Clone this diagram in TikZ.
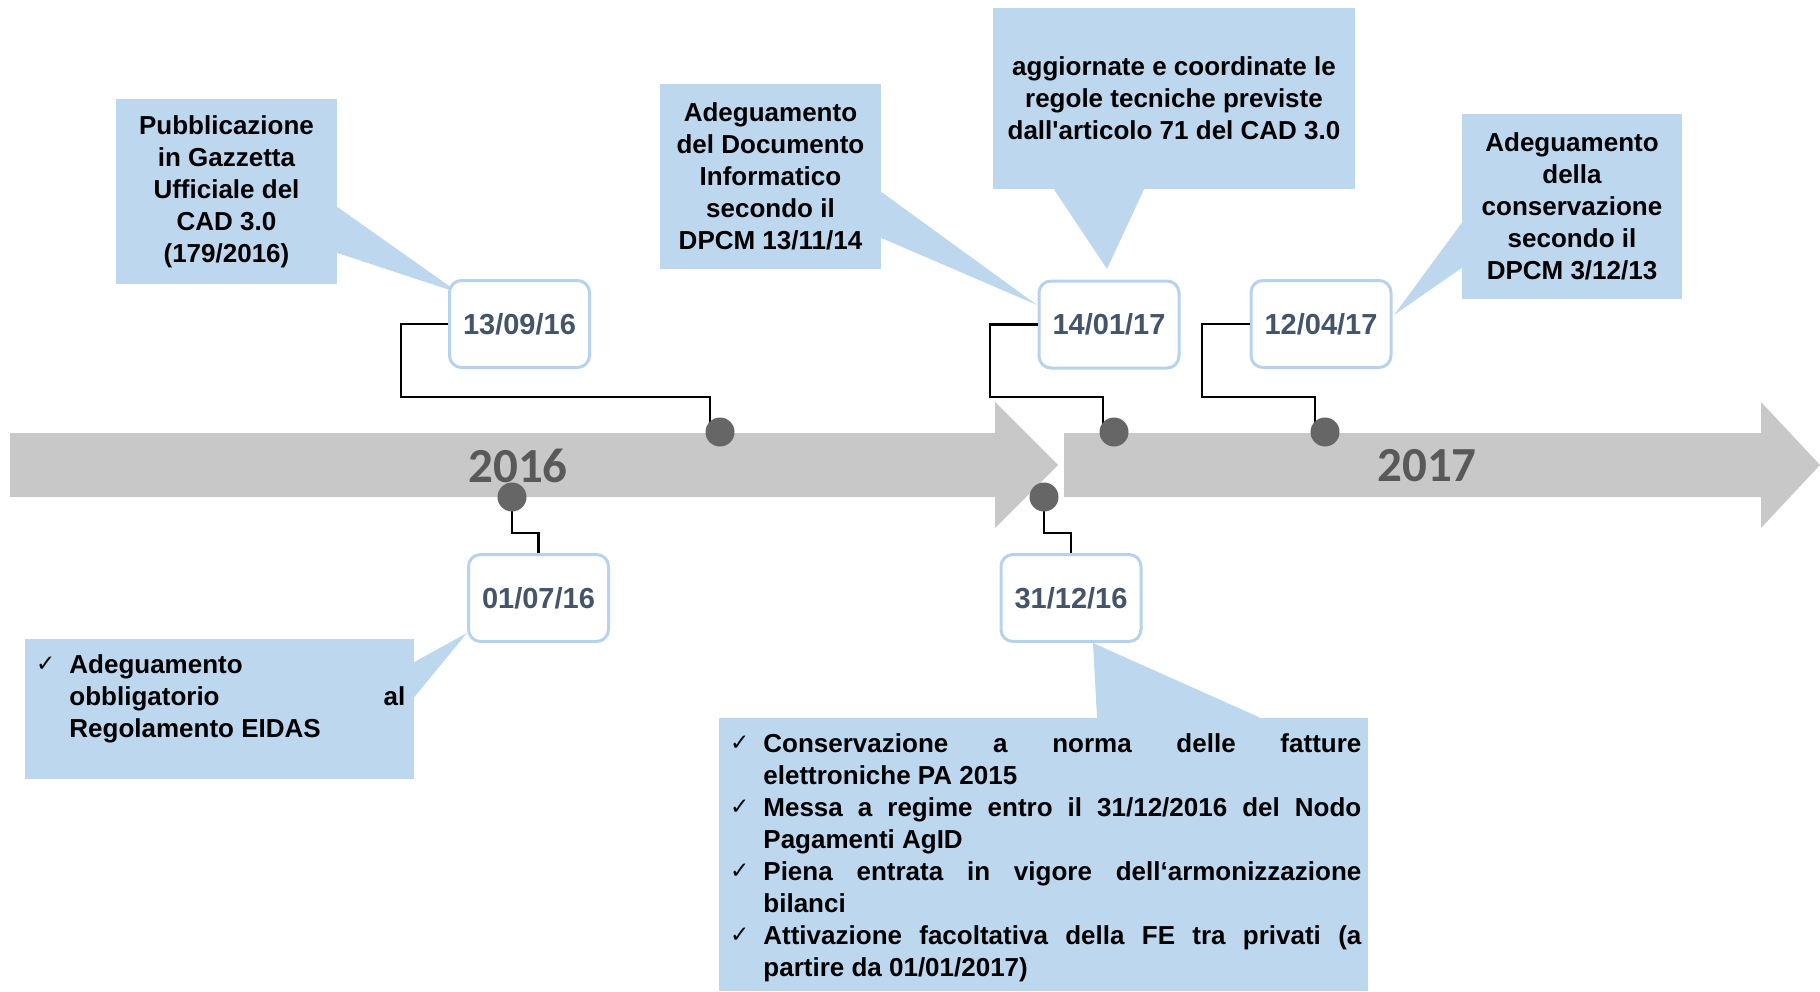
\documentclass[tikz,border=0pt]{standalone}
\usepackage{fontspec}
\setmainfont{Liberation Sans}[Ligatures=TeXOff]
\newfontfamily\yearfont{Carlito}
\newfontfamily\tickfont{DejaVu Sans}
\usetikzlibrary{calc}

\definecolor{calloutblue}{RGB}{189,215,238}
\definecolor{dateedge}{RGB}{182,210,237}
\definecolor{datetext}{RGB}{68,84,106}
\definecolor{bandgray}{RGB}{200,200,200}
\definecolor{dotgray}{RGB}{102,102,102}
\definecolor{yeargray}{RGB}{89,89,89}

% check mark hung to the left of a list line
\newcommand{\tk}{\llap{\raisebox{1pt}{\tickfont\mdseries\fontsize{11.5}{11.5}\selectfont ✓}\hspace{7pt}}}

\begin{document}
\begin{tikzpicture}[x=0.5pt, y=-0.5pt,
  band/.style={fill=bandgray},
  yearlabel/.style={font=\yearfont\bfseries\fontsize{24.5}{29}\selectfont, text=yeargray, inner sep=0},
  marker/.style={circle, fill=dotgray, minimum size=14.5pt, inner sep=0},
  datebox/.style={draw=dateedge, line width=1.5pt, fill=white, rounded corners=6pt,
    minimum width=70pt, minimum height=43.5pt, inner sep=0,
    font=\bfseries\fontsize{14.5}{17}\selectfont, text=datetext},
  calloutbox/.style={fill=calloutblue, inner sep=0, align=center,
    font=\bfseries\fontsize{13}{16}\selectfont},
  pointer/.style={fill=calloutblue},
  link/.style={draw=black, line width=1.2pt},
  listtext/.style={anchor=base west, inner sep=0, font=\bfseries\fontsize{13}{16}\selectfont}
]
\useasboundingbox (0,0) rectangle (1820,991);

% timeline bands
\fill[band] (10,433) -- (995,433) -- (995,402) -- (1058,465) -- (995,528) -- (995,497) -- (10,497) -- cycle;
\fill[band] (1064,433) -- (1761,433) -- (1761,402) -- (1820,465) -- (1761,528) -- (1761,497) -- (1064,497) -- cycle;

\node[yearlabel] (y2016) at (518,466) {2016};
\node[yearlabel] (y2017) at (1427,466) {2017};

% marker positions on the band edges
\coordinate (m1) at (720,432);
\coordinate (m2) at (512,497);
\coordinate (m3) at (1044,497);
\coordinate (m4) at (1114,432);
\coordinate (m5) at (1325,432);

% callout boxes
\node[calloutbox, minimum width=110.5pt, minimum height=92.5pt] (c1) at (226.5,191.5)
  {Pubblicazione\\in Gazzetta\\Ufficiale del\\CAD 3.0\\(179/2016)};
\node[calloutbox, minimum width=110.5pt, minimum height=92.5pt] (c2) at (770.5,176.5)
  {Adeguamento\\del Documento\\Informatico\\secondo il\\DPCM 13/11/14};
\node[calloutbox, minimum width=181pt, minimum height=90.5pt] (c3) at (1174,98.5)
  {aggiornate e coordinate le\\regole tecniche previste\\dall'articolo 71 del CAD 3.0};
\node[calloutbox, minimum width=110pt, minimum height=92.5pt] (c4) at (1572,206.5)
  {Adeguamento\\della\\conservazione\\secondo il\\DPCM 3/12/13};
\node[calloutbox, minimum width=194.5pt, minimum height=70pt] (c5) at (219.5,709) {};
\node[calloutbox, minimum width=324.5pt, minimum height=136.5pt] (c6) at (1043.5,854.5) {};

% callout pointer tips
\coordinate (t1) at (459,293);
\coordinate (t2) at (1037,305);
\coordinate (t3) at (1107,269);
\coordinate (t4) at (1394,315);
\coordinate (t5) at (467,633);
\coordinate (t6) at (1093,643);

\fill[pointer] (c1.east |- 0,207) ++(-3,0) -- ++(3,0) -- (t1) -- (c1.east |- 0,253) -- ++(-3,0) -- cycle;
\fill[pointer] (c2.east |- 0,192) ++(-3,0) -- ++(3,0) -- (t2) -- (c2.east |- 0,238) -- ++(-3,0) -- cycle;
\fill[pointer] (c3.south -| 1054,0) ++(0,-3) -- ++(0,3) -- (t3) -- (c3.south -| 1144,0) -- ++(0,-3) -- cycle;
\fill[pointer] (c4.west |- 0,223) ++(3,0) -- ++(-3,0) -- (t4) -- (c4.west |- 0,268) -- ++(3,0) -- cycle;
\fill[pointer] (c5.east |- 0,662) ++(-3,0) -- ++(3,0) -- (t5) -- (c5.east |- 0,697) -- ++(-3,0) -- cycle;
\fill[pointer] (c6.north -| 1097,0) ++(0,3) -- ++(0,-3) -- (t6) -- (c6.north -| 1260,0) -- ++(0,3) -- cycle;

% list texts
\node[listtext] (l5) at (69,673) {\vtop{\baselineskip=16pt
  \hbox{\tk Adeguamento}
  \hbox to 168pt{obbligatorio\hfill al}
  \hbox{Regolamento EIDAS}}};
\node[listtext] (l6) at (763,752) {\vtop{\baselineskip=16pt
  \hbox to 299pt{\tk Conservazione\hfill a\hfill norma\hfill delle\hfill fatture}
  \hbox{elettroniche PA 2015}
  \hbox to 299pt{\tk Messa\hfill a\hfill regime\hfill entro\hfill il\hfill 31/12/2016\hfill del\hfill Nodo}
  \hbox{Pagamenti AgID}
  \hbox to 299pt{\tk Piena\hfill entrata\hfill in\hfill vigore\hfill dell‘armonizzazione}
  \hbox{bilanci}
  \hbox to 299pt{\tk Attivazione\hfill facoltativa\hfill della\hfill FE\hfill tra\hfill privati\hfill (a}
  \hbox{partire da 01/01/2017)}}};

% date boxes
\node[datebox] (b1) at (519.5,324) {13/09/16};
\node[datebox] (b2) at (538.5,598) {01/07/16};
\node[datebox] (b3) at (1071,598) {31/12/16};
\node[datebox] (b4) at (1109,324.5) {14/01/17};
\node[datebox] (b5) at (1321,324) {12/04/17};

% connectors from dates to markers
\draw[link] (b1.west) -| (401,397) -| ([xshift=-5pt]m1);
\draw[link] (b4.west) -| (990,397) -| ([xshift=-5.5pt]m4);
\draw[link] (b5.west) -| (1202,397) -| ([xshift=-5pt]m5);
\draw[link] (m2) -- ++(0,36) -| (b2.north);
\draw[link] (m3) -- ++(0,36) -| (b3.north);

% markers
\node[marker] (d1) at (m1) {};
\node[marker] (d2) at (m2) {};
\node[marker] (d3) at (m3) {};
\node[marker] (d4) at (m4) {};
\node[marker] (d5) at (m5) {};
\end{tikzpicture}
\end{document}
